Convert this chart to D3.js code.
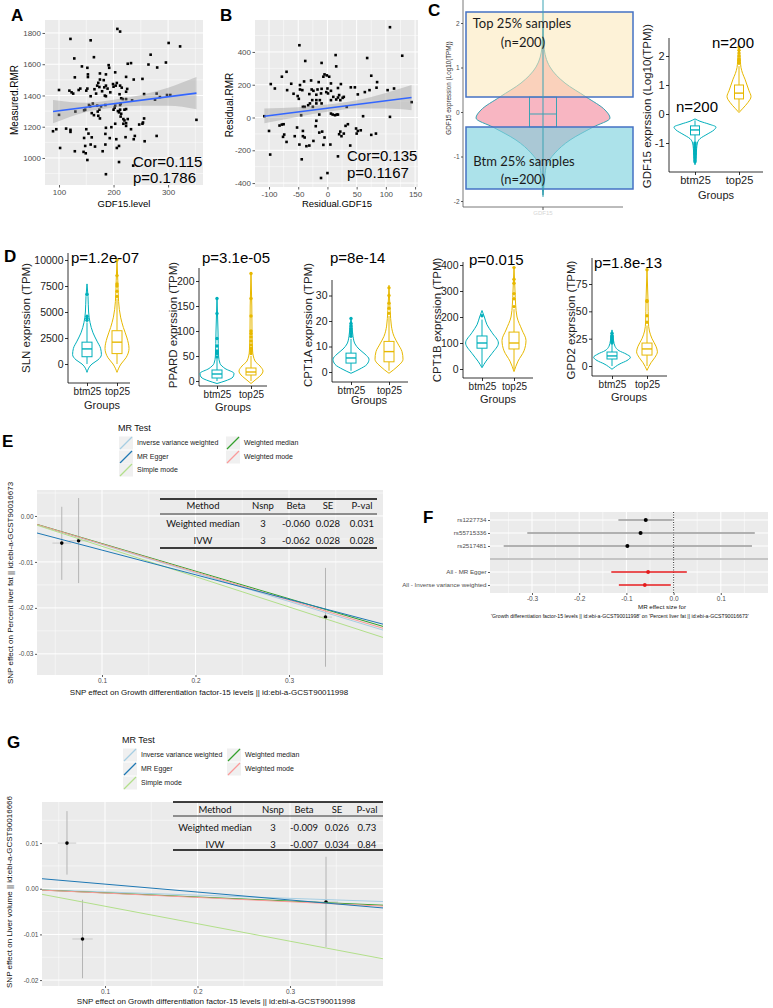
<!DOCTYPE html>
<html><head><meta charset="utf-8">
<script src="https://cdn.jsdelivr.net/npm/d3@7"></script>
<style>body{margin:0;background:#fff}svg{display:block}</style>
</head><body><script>
// ================= DATA =================
// Panel A : GDF15.level vs Measured.RMR
const ptsA = [[207,1826],[212,1809],[121,1762],[158,1753],[301,1736],[322,1714],[268,1661],[164,1645],[128,1637],[142,1586],[152,1577],[226,1603],[232,1607],[296,1611],[280,1579],[264,1598],[191,1594],[192,1577],[203,1548],[153,1535],[153,1518],[129,1516],[175,1541],[186,1535],[175,1502],[172,1481],[182,1498],[223,1519],[237,1502],[253,1506],[139,1444],[136,1435],[119,1431],[123,1420],[100,1435],[150,1431],[152,1444],[174,1454],[165,1440],[183,1452],[189,1444],[186,1463],[179,1427],[168,1412],[170,1463],[200,1456],[204,1463],[206,1480],[199,1473],[212,1463],[215,1450],[194,1420],[211,1408],[214,1382],[223,1424],[225,1442],[184,1399],[186,1395],[158,1395],[126,1412],[256,1409],[279,1412],[285,1390],[298,1403],[304,1403],[276,1373],[217,1377],[223,1377],[234,1369],[155,1339],[157,1330],[162,1348],[170,1335],[174,1309],[171,1297],[177,1330],[185,1339],[203,1335],[202,1322],[212,1339],[213,1348],[223,1313],[220,1309],[208,1300],[212,1309],[200,1309],[130,1297],[148,1309],[160,1287],[164,1274],[172,1270],[175,1253],[146,1305],[210,1292],[214,1283],[213,1265],[218,1249],[220,1240],[223,1223],[223,1205],[218,1219],[226,1249],[232,1184],[247,1214],[253,1219],[254,1227],[256,1253],[100,1276],[95,1184],[113,1188],[121,1180],[121,1167],[89,1171],[196,1197],[203,1219],[186,1193],[185,1154],[193,1127],[150,1184],[154,1156],[160,1132],[146,1128],[148,1077],[158,1086],[166,1073],[185,1086],[205,1120],[210,1077],[222,1133],[237,1120],[239,1141],[257,1107],[279,1141],[129,1043],[145,1039],[149,1030],[152,987],[180,1043],[206,1064],[102,1064],[210,974],[236,951],[186,896],[352,1244]];
const fitA = [[89,1297],[352,1415]];
const bandA = [[89,1222,1371],[150,1295,1353],[200,1322,1372],[250,1335,1403],[300,1335,1450],[352,1312,1518]];
const statsA = ["Cor=0.115","p=0.1786"];
const ticksAx = [100,200,300], ticksAy = [1000,1200,1400,1600,1800];

// Panel B : Residual.GDF15 vs Residual.RMR
const ptsB = [[107,551],[-48,441],[128,377],[14,381],[68,363],[-38,345],[-10,333],[15,312],[-70,279],[-78,249],[-5,263],[-1,257],[-7,249],[3,249],[75,255],[-97,204],[-90,177],[-69,167],[-62,206],[-47,198],[-40,220],[-28,226],[-43,167],[-47,171],[-27,171],[-24,163],[-17,171],[-10,175],[0,177],[6,163],[-15,216],[6,208],[23,204],[18,180],[40,184],[47,184],[85,216],[103,167],[114,177],[64,155],[72,167],[52,141],[84,182],[-58,145],[-51,131],[-31,143],[-19,139],[-11,147],[-2,155],[1,147],[10,126],[15,110],[18,122],[20,137],[26,120],[28,126],[22,106],[-49,114],[-39,65],[-42,65],[-33,75],[-30,86],[-26,106],[-19,106],[-25,65],[-19,86],[-13,106],[-10,86],[6,106],[33,65],[9,18],[13,14],[16,18],[18,18],[6,24],[-14,18],[-45,14],[-78,-43],[-82,-49],[-75,-41],[-100,-82],[-74,-104],[-76,-118],[-70,-149],[-52,-61],[-42,-82],[-56,-114],[-42,-114],[-39,-122],[-48,-165],[-36,-175],[-31,-171],[-19,-20],[-20,-53],[-14,-92],[-9,-86],[-5,-122],[5,-165],[-7,-167],[-24,-143],[22,-86],[20,-102],[24,-114],[28,-98],[31,-51],[35,-41],[39,-171],[49,-67],[52,-82],[57,-78],[50,-98],[61,8],[75,-106],[83,-98],[107,4],[144,94],[-98,-226],[-44,-255],[18,-237],[0,-339],[-11,-369],[-108,8]];
const fitB = [[-108,8],[144,122]];
const bandB = [[-108,-35,55],[-50,5,63],[0,35,79],[50,55,105],[100,55,150],[144,45,198]];
const statsB = ["Cor=0.135","p=0.1167"];
const ticksBx = [-100,-50,0,50,100,150], ticksBy = [-400,-200,0,200,400];

// Panel C (schematic violin)
const schemProfile = [[-1.87,0],[-1.53,0.075],[-1.24,0.15],[-0.92,0.6],[-0.63,1.35],[-0.34,2.5],[-0.135,3.35],[0.045,3.1],[0.34,2.15],[0.65,1.1],[1.01,0.35],[1.46,0.05],[1.9,0]];
const schemBox = [-0.34,-0.045,0.34];
const schemTicks = [-2,-1,0,1,2];
const schemTexts = ["Top 25% samples","(n=200)","Btm 25% samples","(n=200)"];
// Panel C (GDF15 by group)
const groups = ["btm25","top25"];
const gdfProfiles = [
  [[-1.75,0],[-1.5,0.05],[-1.2,0.08],[-1.0,0.12],[-0.85,0.25],[-0.7,0.6],[-0.55,0.95],[-0.45,1.05],[-0.35,0.7],[-0.25,0.25],[-0.17,0]],
  [[0.05,0],[0.2,0.2],[0.4,0.45],[0.6,0.6],[0.8,0.5],[1.0,0.4],[1.2,0.3],[1.4,0.18],[1.6,0.1],[1.8,0.07],[2.0,0.05],[2.3,0]]];
const gdfBoxes = [[-0.95,-0.72,-0.55,-0.41,-0.22],[0.1,0.52,0.72,1.0,1.65]];
const gdfOutliers = [[-1.0,-1.05,-1.1,-1.15,-1.2,-1.25,-1.3,-1.35,-1.4,-1.45,-1.5,-1.55,-1.6,-1.65],[1.75,1.8,1.85,1.9,2.0,2.1,2.2,2.3]];
const gdfTicks = [-1,0,1,2];
const gdfN = ["n=200","n=200"];

// Panel D
const genesD = ["SLN","PPARD","CPT1A","CPT1B","GPD2"];
const pD = ["p=1.2e-07","p=3.1e-05","p=8e-14","p=0.015","p=1.8e-13"];
const ticksD = [[0,2500,5000,7500,10000],[0,50,100,150,200],[0,10,20,30],[0,100,200,300,400],[0,25,50,75]];
const profBtmD = [
  [[-800,0],[0,0.25],[400,0.55],[900,0.72],[1500,0.68],[2200,0.5],[3000,0.3],[4000,0.15],[5000,0.08],[6500,0.05],[7700,0]],
  [[-5,0],[0,0.4],[8,0.8],[15,0.85],[25,0.4],[35,0.15],[50,0.08],[100,0.05],[168,0]],
  [[-0.5,0],[1,0.4],[3,0.8],[5,0.9],[7,0.7],[9,0.4],[11,0.2],[14,0.1],[18,0.05],[21,0]],
  [[5,0],[30,0.2],[60,0.5],[100,0.82],[140,0.5],[170,0.25],[200,0.12],[225,0]],
  [[-3,0],[2,0.4],[5,0.75],[8,0.92],[11,0.7],[14,0.35],[18,0.15],[23,0.08],[33,0]]];
const profTopD = [
  [[-800,0],[0,0.2],[600,0.45],[1500,0.6],[2500,0.5],[3500,0.32],[4500,0.18],[6000,0.08],[8000,0.04],[10000,0]],
  [[-5,0],[5,0.3],[12,0.5],[20,0.6],[30,0.45],[40,0.2],[60,0.08],[100,0.05],[150,0.04],[218,0]],
  [[-0.5,0],[2,0.4],[5,0.7],[8,0.65],[11,0.45],[14,0.25],[18,0.12],[24,0.06],[34,0]],
  [[-10,0],[30,0.2],[70,0.5],[110,0.6],[150,0.4],[200,0.15],[250,0.08],[300,0.05],[390,0]],
  [[-4,0],[3,0.2],[8,0.4],[13,0.52],[18,0.45],[25,0.25],[32,0.12],[40,0.07],[60,0.05],[88,0]]];
const boxBtmD = [[0,700,1450,2100,4000],[0,6,14,22,45],[0.5,3.5,5.5,7.4,13],[10,80,100,127,190],[0,6.4,9.2,12.8,20]];
const boxTopD = [[0,1000,2100,3200,6300],[0,12,18,26,50],[0.5,4,8,12,22],[0,77,100,142,230],[0,10,15.6,21,37]];
const outBtmD = [[4200,4400,4600,6700],[48,55,60,70,85,135,165],[14,15,16,17,18,19,21],[205],[21,22,23,24,25,26,27,28,30]];
const outTopD = [[6500,7000,7500,7700,8500,10000],[55,60,65,72,80,88,95,100,130,165,215],[23,25,27,30,33],[240,270,290,330,345,390],[40,46,59,60,88]];

// Panels E & G (MR scatter)
const mrMethods = ["Inverse variance weighted","MR Egger","Simple mode","Weighted median","Weighted mode"];
const slopesE = [-0.062,-0.0536,-0.066,-0.060,-0.061];
const interceptsE = [0,-0.00207,0,0,0];
const snpBxE = [0.057,0.075,0.339], snpBxSeE = [0.01,0.01,0.007];
const snpByE = [-0.0059,-0.0054,-0.0220], snpByLoE = [-0.0139,-0.0146,-0.0328], snpByHiE = [0.0020,0.0039,-0.0113];
const slopesG = [-0.007,-0.01736,-0.0383,-0.009,-0.0095];
const interceptsG = [0,0.00275,0,0,0];
const snpBxG = [0.0589,0.0757,0.3389], snpBxSeG = [0.01,0.011,0.013];
const snpByG = [0.0100,-0.0110,-0.0029], snpByLoG = [0.0031,-0.0196,-0.0128], snpByHiG = [0.0170,-0.0024,0.0070];
const ticksEx = [0.1,0.2,0.3], ticksEy = [0,-0.01,-0.02,-0.03], ticksGy = [0.01,0,-0.01,-0.02];
const tableHead = ["Method","Nsnp","Beta","SE","P-val"];
const tableE = [["Weighted median","3","-0.060","0.028","0.031"],["IVW","3","-0.062","0.028","0.028"]];
const tableG = [["Weighted median","3","-0.009","0.026","0.73"],["IVW","3","-0.007","0.034","0.84"]];

// Panel F (forest)
const forestLabels = ["rs1227734","rs55715336","rs2517481","","All - MR Egger","All - Inverse variance weighted"];
const forestEst = [-0.059,-0.070,-0.098,null,-0.054,-0.061];
const forestLo = [-0.117,-0.310,-0.360,null,-0.132,-0.116];
const forestHi = [-0.002,0.172,0.166,null,0.028,-0.006];
const ticksF = [-0.3,-0.2,-0.1,0.0,0.1];

// ================= STYLE =================
const SANS = "'Liberation Sans', Arial, sans-serif";
const CAL = "Lato, 'Open Sans', sans-serif";
const TEAL = "#00AFBB", GOLD = "#E7B800";
const mrColors = ["#A6CEE3","#1F78B4","#B2DF8A","#33A02C","#FB9A99"];

const svg = d3.select("body").append("svg").attr("width",773).attr("height",1008).style("font-family",SANS);
svg.append("rect").attr("width",773).attr("height",1008).attr("fill","#fff");

function txt(g,x,y,s,o={}){
  const t=g.append("text").attr("x",x).attr("y",y).text(s)
    .style("font-size",(o.size||10)+"px").attr("fill",o.fill||"#000")
    .attr("text-anchor",o.anchor||"start");
  if(o.bold) t.style("font-weight","bold");
  if(o.family) t.style("font-family",o.family);
  if(o.rotate) t.attr("transform",`rotate(-90,${x},${y})`);
  if(o.dy) t.attr("dy",o.dy);
  return t;
}
function axis(g,kind,scale,pos,vals,labels,o){
  const gen=(kind==="left"?d3.axisLeft:d3.axisBottom)(scale).tickValues(vals)
    .tickFormat((d,i)=>labels[i]).tickSize(o.len||2.5).tickPadding(o.pad||1.5).tickSizeOuter(0);
  const a=g.append("g").attr("transform",kind==="left"?`translate(${pos},0)`:`translate(0,${pos})`).call(gen);
  a.attr("font-family",null).attr("font-size",null);
  a.select(".domain").remove();
  a.selectAll(".tick line").attr("stroke",o.tickColor||"#333").attr("stroke-width",o.tw||0.8);
  a.selectAll(".tick text").attr("fill",o.color||"#4D4D4D").style("font-size",o.size+"px");
  return a;
}
function ggPanel(g,xs,ys,xMaj,xMin,yMaj,yMin){
  const [xa,xb]=xs.range(), [ya,yb]=ys.range();
  g.append("rect").attr("x",xa).attr("y",yb).attr("width",xb-xa).attr("height",ya-yb).attr("fill","#EBEBEB");
  xMin.forEach(v=>g.append("line").attr("x1",xs(v)).attr("x2",xs(v)).attr("y1",yb).attr("y2",ya).attr("stroke","#fff").attr("stroke-width",0.5));
  yMin.forEach(v=>g.append("line").attr("y1",ys(v)).attr("y2",ys(v)).attr("x1",xa).attr("x2",xb).attr("stroke","#fff").attr("stroke-width",0.5));
  xMaj.forEach(v=>g.append("line").attr("x1",xs(v)).attr("x2",xs(v)).attr("y1",yb).attr("y2",ya).attr("stroke","#fff").attr("stroke-width",1));
  yMaj.forEach(v=>g.append("line").attr("y1",ys(v)).attr("y2",ys(v)).attr("x1",xa).attr("x2",xb).attr("stroke","#fff").attr("stroke-width",1));
}
let clipId=0;
function clipTo(g,xs,ys){
  const id="clip"+(clipId++);
  const [xa,xb]=xs.range(), [ya,yb]=ys.range();
  svg.append("clipPath").attr("id",id).append("rect").attr("x",xa).attr("y",yb).attr("width",xb-xa).attr("height",ya-yb);
  return g.append("g").attr("clip-path",`url(#${id})`);
}
function violin(g,ys,cx,prof,col,ws,fill){
  const ar=d3.area().y(d=>ys(d[0])).x0(d=>cx-ws(d[1])).x1(d=>cx+ws(d[1])).curve(d3.curveMonotoneY);
  g.append("path").attr("d",ar(prof)).attr("fill",fill||"none").attr("stroke",col).attr("stroke-width",1);
}
function boxplot(g,ys,cx,b,col,hw){
  g.append("line").attr("x1",cx).attr("x2",cx).attr("y1",ys(b[0])).attr("y2",ys(b[1])).attr("stroke",col);
  g.append("line").attr("x1",cx).attr("x2",cx).attr("y1",ys(b[3])).attr("y2",ys(b[4])).attr("stroke",col);
  g.append("rect").attr("x",cx-hw).attr("width",2*hw).attr("y",ys(b[3])).attr("height",ys(b[1])-ys(b[3])).attr("fill","#fff").attr("stroke",col);
  g.append("line").attr("x1",cx-hw).attr("x2",cx+hw).attr("y1",ys(b[2])).attr("y2",ys(b[2])).attr("stroke",col).attr("stroke-width",1.4);
}
function dots(g,ys,cx,vals,col){
  g.selectAll(null).data(vals).enter().append("circle").attr("cx",cx).attr("cy",d=>ys(d)).attr("r",1.7).attr("fill",col);
}

// ================= PANEL A =================
{
  const g=svg.append("g");
  const x=d3.scaleLinear().domain([74.3,364]).range([45,203]);
  const y=d3.scaleLinear().domain([827,1883]).range([185,20]);
  ggPanel(g,x,y,ticksAx,[150,250,350],ticksAy,[900,1100,1300,1500,1700]);
  const c=clipTo(g,x,y);
  c.selectAll(null).data(ptsA).enter().append("rect").attr("x",d=>x(d[0])-1.3).attr("y",d=>y(d[1])-1.3).attr("width",2.6).attr("height",2.6).attr("fill","#000");
  c.append("path").attr("d",d3.area().x(d=>x(d[0])).y0(d=>y(d[1])).y1(d=>y(d[2])).curve(d3.curveMonotoneX)(bandA)).attr("fill","#999").attr("fill-opacity",0.4);
  c.append("path").attr("d",d3.line().x(d=>x(d[0])).y(d=>y(d[1]))(fitA)).attr("stroke","#3366FF").attr("stroke-width",1.6).attr("fill","none");
  axis(g,"left",y,45,ticksAy,ticksAy.map(String),{size:8});
  axis(g,"bottom",x,185,ticksAx,ticksAx.map(String),{size:8});
  txt(g,133,167,statsA[0],{size:15});
  txt(g,133,183,statsA[1],{size:15});
  txt(g,124,207,"GDF15.level",{size:9.5,anchor:"middle"});
  txt(g,14,100,"Measured.RMR",{size:10,anchor:"middle",rotate:true,dy:"0.35em"});
  txt(g,11,21,"A",{size:17,bold:true});
}
// ================= PANEL B =================
{
  const g=svg.append("g");
  const x=d3.scaleLinear().domain([-124,155]).range([255,418]);
  const y=d3.scaleLinear().domain([-424,595]).range([187,20]);
  ggPanel(g,x,y,ticksBx,[-75,-25,25,75,125],ticksBy,[-300,-100,100,300,500]);
  const c=clipTo(g,x,y);
  c.selectAll(null).data(ptsB).enter().append("rect").attr("x",d=>x(d[0])-1.3).attr("y",d=>y(d[1])-1.3).attr("width",2.6).attr("height",2.6).attr("fill","#000");
  c.append("path").attr("d",d3.area().x(d=>x(d[0])).y0(d=>y(d[1])).y1(d=>y(d[2])).curve(d3.curveMonotoneX)(bandB)).attr("fill","#999").attr("fill-opacity",0.4);
  c.append("path").attr("d",d3.line().x(d=>x(d[0])).y(d=>y(d[1]))(fitB)).attr("stroke","#3366FF").attr("stroke-width",1.6).attr("fill","none");
  axis(g,"left",y,255,ticksBy,ticksBy.map(String),{size:8});
  axis(g,"bottom",x,187,ticksBx,ticksBx.map(String),{size:8});
  txt(g,347,161,statsB[0],{size:15});
  txt(g,347,178,statsB[1],{size:15});
  txt(g,337,207,"Residual.GDF15",{size:9.5,anchor:"middle"});
  txt(g,229,105,"Residual.RMR",{size:10,anchor:"middle",rotate:true,dy:"0.35em"});
  txt(g,220,21,"B",{size:17,bold:true});
}
// ================= PANEL C (schematic) =================
{
  const g=svg.append("g");
  const y=d3.scaleLinear().domain([-2,2]).range([201,23]);
  const ws=d3.scaleLinear().domain([0,1]).range([0,20]);
  const cx=543;
  g.append("line").attr("x1",463).attr("x2",463).attr("y1",0).attr("y2",207).attr("stroke","#555").attr("stroke-width",0.8);
  g.append("line").attr("x1",463).attr("x2",623).attr("y1",207).attr("y2",207).attr("stroke","#555").attr("stroke-width",0.8);
  g.append("line").attr("x1",cx).attr("x2",cx).attr("y1",207).attr("y2",210).attr("stroke","#555");
  txt(g,cx,215,"GDF15",{size:6,anchor:"middle",fill:"#d6d6d6"});
  axis(g,"left",y,463,schemTicks,schemTicks.map(String),{size:6.5,len:2});
  violin(g,y,cx,schemProfile,"#3AA3B3",ws,"#F8B6C2");
  g.append("rect").attr("x",cx-13.5).attr("width",27).attr("y",y(schemBox[2])).attr("height",y(schemBox[0])-y(schemBox[2])).attr("fill","none").attr("stroke","#3AA3B3");
  g.append("line").attr("x1",cx-13.5).attr("x2",cx+13.5).attr("y1",y(schemBox[1])).attr("y2",y(schemBox[1])).attr("stroke","#3AA3B3");
  g.append("rect").attr("x",466).attr("y",12).attr("width",167).attr("height",85).attr("fill","#FCE7B6").attr("fill-opacity",0.55).attr("stroke","#4472C4").attr("stroke-width",1.5);
  g.append("rect").attr("x",466).attr("y",127).attr("width",167).attr("height",62).attr("fill","#7FD3DE").attr("fill-opacity",0.65).attr("stroke","#4472C4").attr("stroke-width",1.5);
  g.append("line").attr("x1",cx).attr("x2",cx).attr("y1",0).attr("y2",197).attr("stroke","#3AA3B3").attr("stroke-width",1);
  txt(g,522,28,schemTexts[0],{size:13,anchor:"middle",family:CAL,fill:"#1a1a1a"});
  txt(g,523,47,schemTexts[1],{size:13,anchor:"middle",family:CAL,fill:"#1a1a1a"});
  txt(g,524,166,schemTexts[2],{size:13,anchor:"middle",family:CAL,fill:"#1a1a1a"});
  txt(g,523,184,schemTexts[3],{size:13,anchor:"middle",family:CAL,fill:"#1a1a1a"});
  txt(g,449,88,"GDF15 expression (Log10(TPM))",{size:6.3,anchor:"middle",rotate:true,dy:"0.35em",fill:"#333"});
  txt(g,428,16,"C",{size:17,bold:true});
}
// ================= PANEL C (groups) =================
{
  const g=svg.append("g");
  const y=d3.scaleLinear().domain([0,1]).range([114,85]);
  const ws=d3.scaleLinear().domain([0,1]).range([0,20]);
  const cxs=[695,739], cols=[TEAL,GOLD];
  g.append("line").attr("x1",669).attr("x2",669).attr("y1",38).attr("y2",172).attr("stroke","#000").attr("stroke-width",0.8);
  g.append("line").attr("x1",669).attr("x2",763).attr("y1",172).attr("y2",172).attr("stroke","#000").attr("stroke-width",0.8);
  axis(g,"left",y,669,gdfTicks,gdfTicks.map(String),{size:11,color:"#222",tickColor:"#000",len:3});
  const xb=d3.scaleOrdinal().domain(groups).range(cxs);
  axis(g,"bottom",xb,172,groups,groups,{size:11,color:"#222",tickColor:"#000",len:3});
  groups.forEach((gr,i)=>{
    violin(g,y,cxs[i],gdfProfiles[i],cols[i],ws,"#fff");
    boxplot(g,y,cxs[i],gdfBoxes[i],cols[i],4.5);
    dots(g,y,cxs[i],gdfOutliers[i],cols[i]);
  });
  txt(g,716,199,"Groups",{size:11,anchor:"middle",fill:"#222"});
  txt(g,647,106,"GDF15 exprssion (Log10(TPM))",{size:11.5,anchor:"middle",rotate:true,dy:"0.35em",fill:"#222"});
  txt(g,697,112,gdfN[0],{size:15,anchor:"middle"});
  txt(g,733,48,gdfN[1],{size:15,anchor:"middle"});
}
// ================= PANEL D =================
{
  const L=[ // layout per panel
    {ax:68,z:364,tp:260,top:253,xa:383,xr:130,c:[87,117],tb:383,gb:409,gc:102,tx:26,ty:318,px:71,py:263},
    {ax:199,z:381,tp:281,top:268,xa:386,xr:267,c:[217,251],tb:386,gb:411,gc:233,tx:173,ty:325,px:202,py:263},
    {ax:332,z:372,tp:295.5,top:280,xa:382,xr:408,c:[351,389],tb:382,gb:404,gc:369,tx:308,ty:325,px:330,py:263},
    {ax:463,z:369,tp:265,top:262,xa:378,xr:533,c:[482,514],tb:378,gb:403,gc:498,tx:437,ty:320,px:469,py:265},
    {ax:592,z:366,tp:284,top:258,xa:376,xr:667,c:[612,647],tb:376,gb:401,gc:629,tx:571,ty:320,px:594,py:268}];
  const ws=d3.scaleLinear().domain([0,1]).range([0,20]);
  const g=svg.append("g");
  genesD.forEach((gene,k)=>{
    const l=L[k], tk=ticksD[k];
    const y=d3.scaleLinear().domain([0,tk[tk.length-1]]).range([l.z,l.tp]);
    g.append("line").attr("x1",l.ax).attr("x2",l.ax).attr("y1",l.top).attr("y2",l.xa).attr("stroke","#000").attr("stroke-width",0.8);
    g.append("line").attr("x1",l.ax).attr("x2",l.xr).attr("y1",l.xa).attr("y2",l.xa).attr("stroke","#000").attr("stroke-width",0.8);
    axis(g,"left",y,l.ax,tk,tk.map(String),{size:10.5,color:"#222",tickColor:"#000",len:3});
    const xb=d3.scaleOrdinal().domain(groups).range(l.c);
    axis(g,"bottom",xb,l.tb,groups,groups,{size:10,color:"#222",tickColor:"#000",len:3});
    violin(g,y,l.c[0],profBtmD[k],TEAL,ws,"#fff");
    violin(g,y,l.c[1],profTopD[k],GOLD,ws,"#fff");
    boxplot(g,y,l.c[0],boxBtmD[k],TEAL,5);
    boxplot(g,y,l.c[1],boxTopD[k],GOLD,5);
    dots(g,y,l.c[0],outBtmD[k],TEAL);
    dots(g,y,l.c[1],outTopD[k],GOLD);
    txt(g,l.gc,l.gb,"Groups",{size:11,anchor:"middle",fill:"#222"});
    txt(g,l.tx,l.ty,gene+" exprssion (TPM)",{size:11.5,anchor:"middle",rotate:true,dy:"0.35em",fill:"#222"});
    txt(g,l.px,l.py,pD[k],{size:15});
  });
  txt(g,4,262,"D",{size:17,bold:true});
}
// ================= MR scatter helper =================
function mrPanel(o){
  const g=svg.append("g");
  const x=d3.scaleLinear().domain(o.xd).range(o.xr);
  const y=d3.scaleLinear().domain(o.yd).range(o.yr);
  ggPanel(g,x,y,ticksEx,[0.05,0.15,0.25,0.35],o.yt,o.ymin);
  const c=clipTo(g,x,y);
  o.bx.forEach((bx,i)=>{
    c.append("line").attr("x1",x(bx)).attr("x2",x(bx)).attr("y1",y(o.lo[i])).attr("y2",y(o.hi[i])).attr("stroke","#B4B4B4").attr("stroke-width",1);
    c.append("line").attr("x1",x(bx-o.se[i])).attr("x2",x(bx+o.se[i])).attr("y1",y(o.by[i])).attr("y2",y(o.by[i])).attr("stroke","#C8C8C8").attr("stroke-width",1);
  });
  c.selectAll(null).data(o.bx).enter().append("circle").attr("cx",d=>x(d)).attr("cy",(d,i)=>y(o.by[i])).attr("r",1.8).attr("fill","#000");
  const xd=x.domain();
  [0,3,4,2,1].forEach(m=>{
    const pts=xd.map(v=>[v,o.b0[m]+o.b1[m]*v]);
    c.append("path").attr("d",d3.line().x(d=>x(d[0])).y(d=>y(d[1]))(pts)).attr("stroke",mrColors[m]).attr("stroke-width",1).attr("fill","none");
  });
  axis(g,"left",y,o.xr[0],o.yt,o.ytl,{size:6.5,len:2});
  axis(g,"bottom",x,o.yr[0],ticksEx,ticksEx.map(String),{size:6.5,len:2});
  txt(g,o.xtx,o.xty,"SNP effect on Growth differentiation factor-15 levels || id:ebi-a-GCST90011998",{size:8,anchor:"middle",fill:"#111"});
  txt(g,o.ytx,o.yty,o.ytitle,{size:8,anchor:"middle",rotate:true,dy:"0.35em",fill:"#111"});
  // table
  const t=o.tab, tx=d3.scaleOrdinal().domain(tableHead).range(t.cols);
  g.append("line").attr("x1",t.x0).attr("x2",t.x1).attr("y1",t.top).attr("y2",t.top).attr("stroke","#000").attr("stroke-width",1.5);
  g.append("line").attr("x1",t.x0).attr("x2",t.x1).attr("y1",t.mid).attr("y2",t.mid).attr("stroke","#000").attr("stroke-width",0.8);
  g.append("line").attr("x1",t.x0).attr("x2",t.x1).attr("y1",t.bot).attr("y2",t.bot).attr("stroke","#000").attr("stroke-width",1.5);
  tableHead.forEach(h=>txt(g,tx(h),t.hb,h,{size:9.5,anchor:"middle",family:CAL,fill:"#111"}));
  o.rows.forEach((r,ri)=>r.forEach((v,ci)=>txt(g,tx(tableHead[ci]),t.rb[ri],v,{size:9.5,anchor:"middle",family:CAL,fill:"#111"})));
  // legend
  const lg=o.leg;
  txt(g,lg.x,lg.ty,"MR Test",{size:9,fill:"#111"});
  const pos=[[0,0],[0,1],[0,2],[1,0],[1,1]];
  mrMethods.forEach((m,i)=>{
    const kx=lg.kx[pos[i][0]], ky=lg.ky[pos[i][1]];
    g.append("rect").attr("x",kx).attr("y",ky-6.5).attr("width",14).attr("height",13).attr("fill","#F0F0F0");
    g.append("line").attr("x1",kx+1).attr("y1",ky+6).attr("x2",kx+13).attr("y2",ky-6).attr("stroke",mrColors[i]).attr("stroke-width",1.2);
    txt(g,kx+18,ky,m,{size:7,fill:"#222",dy:"0.35em"});
  });
  txt(g,o.lab[0],o.lab[1],o.lab[2],{size:17,bold:true});
}
mrPanel({xd:[0.0305,0.4005],xr:[37,383],yd:[-0.0346,0.00565],yr:[675,490],yt:ticksEy,ytl:["0.00","-0.01","-0.02","-0.03"],ymin:[0.005,-0.005,-0.015,-0.025],
  bx:snpBxE,se:snpBxSeE,by:snpByE,lo:snpByLoE,hi:snpByHiE,b0:interceptsE,b1:slopesE,
  xtx:209,xty:695,ytx:10,yty:583,ytitle:"SNP effect on Percent liver fat || id:ebi-a-GCST90016673",
  tab:{x0:160,x1:377,cols:[203,263,296,328,362],top:499,mid:514,bot:548,hb:509,rb:[527,544]},rows:tableE,
  leg:{x:118,ty:431,kx:[119,226],ky:[443,457,470]},lab:[2,447,"E"]});
mrPanel({xd:[0.0319,0.4005],xr:[42,383],yd:[-0.0213,0.019],yr:[986,802],yt:ticksGy,ytl:["0.01","0.00","-0.01","-0.02"],ymin:[0.015,0.005,-0.005,-0.015],
  bx:snpBxG,se:snpBxSeG,by:snpByG,lo:snpByLoG,hi:snpByHiG,b0:interceptsG,b1:slopesG,
  xtx:216,xty:1004,ytx:9,yty:892,ytitle:"SNP effect on Liver volume || id:ebi-a-GCST90016666",
  tab:{x0:173,x1:383,cols:[215,273,304,337,367],top:802,mid:816,bot:850,hb:813,rb:[831,848]},rows:tableG,
  leg:{x:122,ty:743,kx:[123,227],ky:[755,769,783]},lab:[7,748,"G"]});

// ================= PANEL F =================
{
  const g=svg.append("g");
  const x=d3.scaleLinear().domain([-0.389,0.2]).range([490,768]);
  const yb=d3.scalePoint().domain(forestLabels.map((d,i)=>i)).range([520,585]);
  g.append("rect").attr("x",490).attr("y",512).attr("width",278).attr("height",81).attr("fill","#EBEBEB");
  [-0.35,-0.25,-0.15,-0.05,0.05,0.15].forEach(v=>g.append("line").attr("x1",x(v)).attr("x2",x(v)).attr("y1",512).attr("y2",593).attr("stroke","#fff").attr("stroke-width",0.5));
  ticksF.forEach(v=>g.append("line").attr("x1",x(v)).attr("x2",x(v)).attr("y1",512).attr("y2",593).attr("stroke","#fff").attr("stroke-width",1));
  forestLabels.forEach((l,i)=>{ if(l!=="") g.append("line").attr("x1",490).attr("x2",768).attr("y1",yb(i)).attr("y2",yb(i)).attr("stroke","#fff").attr("stroke-width",1);});
  g.append("line").attr("x1",490).attr("x2",768).attr("y1",yb(3)).attr("y2",yb(3)).attr("stroke","#C4C4C4").attr("stroke-width",2);
  g.append("line").attr("x1",x(0)).attr("x2",x(0)).attr("y1",512).attr("y2",593).attr("stroke","#000").attr("stroke-width",0.8).attr("stroke-dasharray","1,1.5");
  forestLabels.forEach((l,i)=>{
    if(forestEst[i]===null) return;
    const red=i>3, col=red?"#E41A1C":"#999";
    g.append("line").attr("x1",x(forestLo[i])).attr("x2",x(forestHi[i])).attr("y1",yb(i)).attr("y2",yb(i)).attr("stroke",col).attr("stroke-width",red?1.6:1.3);
    g.append("circle").attr("cx",x(forestEst[i])).attr("cy",yb(i)).attr("r",red?1.9:2).attr("fill",red?"#E41A1C":"#000");
  });
  const ax=axis(g,"left",yb,490,forestLabels.map((d,i)=>i),forestLabels,{size:6.2,len:2});
  ax.selectAll(".tick").filter((d,i)=>forestLabels[i]==="").remove();
  axis(g,"bottom",x,593,ticksF,ticksF.map(v=>v.toFixed(1)),{size:6.5,len:2});
  txt(g,662,609,"MR effect size for",{size:6.2,anchor:"middle",fill:"#111"});
  txt(g,491,618,"'Growth differentiation factor-15 levels || id:ebi-a-GCST90011998' on 'Percent liver fat || id:ebi-a-GCST90016673'",{size:5.2,fill:"#111"});
  txt(g,423,523,"F",{size:17,bold:true});
}
</script></body></html>
